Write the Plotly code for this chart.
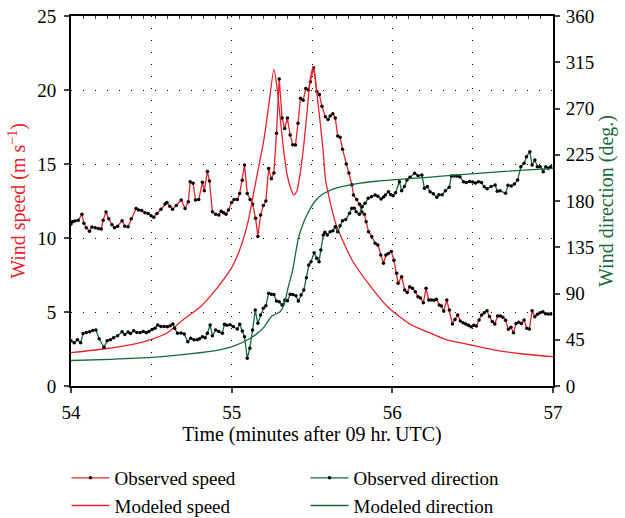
import plotly.graph_objects as go

# ---------------- data ----------------
obs_speed_t = [54.000, 54.010, 54.025, 54.045, 54.068, 54.080, 54.095, 54.115, 54.130, 54.150,
               54.170, 54.188, 54.200, 54.218, 54.235, 54.255, 54.271, 54.290, 54.318, 54.335,
               54.355, 54.375, 54.405, 54.420, 54.440, 54.460, 54.480, 54.498, 54.515, 54.535,
               54.560, 54.585, 54.597, 54.615, 54.632, 54.655, 54.686, 54.710, 54.730, 54.742,
               54.760, 54.775, 54.795, 54.818, 54.830, 54.849, 54.862, 54.880, 54.900, 54.920,
               54.935, 54.950, 54.965, 54.980, 55.000, 55.015, 55.035, 55.050, 55.066, 55.080,
               55.097, 55.115, 55.130, 55.149, 55.163, 55.180, 55.197, 55.213, 55.230, 55.247,
               55.263, 55.279, 55.296, 55.314, 55.330, 55.347, 55.364, 55.380, 55.397, 55.413,
               55.428, 55.445, 55.461, 55.477, 55.490, 55.510, 55.530, 55.546, 55.562, 55.583,
               55.600, 55.613, 55.630, 55.645, 55.660, 55.675, 55.690, 55.713, 55.730, 55.748,
               55.758, 55.778, 55.796, 55.810, 55.826, 55.837, 55.852, 55.872, 55.893, 55.910,
               55.928, 55.945, 55.960, 55.975, 55.994, 56.010, 56.027, 56.036, 56.058, 56.077,
               56.093, 56.108, 56.125, 56.143, 56.160, 56.175, 56.193, 56.210, 56.227, 56.243,
               56.260, 56.275, 56.292, 56.305, 56.320, 56.339, 56.355, 56.374, 56.390, 56.407,
               56.423, 56.440, 56.457, 56.474, 56.490, 56.507, 56.523, 56.540, 56.556, 56.572,
               56.589, 56.605, 56.622, 56.638, 56.655, 56.672, 56.688, 56.705, 56.722, 56.738,
               56.754, 56.770, 56.787, 56.803, 56.820, 56.837, 56.853, 56.870, 56.887, 56.903,
               56.920, 56.937, 56.953, 56.970, 56.986]
obs_speed = [10.95, 11.10, 11.15, 11.20, 11.60, 11.00, 10.70, 10.45, 10.75, 10.70,
             10.65, 10.60, 11.20, 11.75, 11.30, 10.90, 10.70, 10.80, 11.17, 10.80,
             10.76, 11.30, 12.00, 11.90, 11.85, 11.70, 11.65, 11.50, 11.40, 11.65,
             11.95, 12.30, 12.40, 12.15, 11.95, 12.20, 12.57, 12.00, 12.45, 13.80,
             13.70, 12.57, 12.60, 13.76, 13.20, 14.50, 13.85, 11.78, 11.60, 11.55,
             11.80, 11.70, 11.60, 11.90, 12.40, 12.60, 12.60, 13.00, 13.90, 14.93,
             13.00, 12.60, 12.30, 11.33, 10.10, 11.55, 12.20, 12.50, 14.70, 14.00,
             14.40, 17.07, 20.74, 18.10, 17.40, 18.10, 16.96, 16.30, 16.28, 17.75,
             19.44, 19.30, 20.10, 20.00, 20.56, 21.50, 19.90, 19.70, 18.90, 18.20,
             18.00, 18.25, 18.40, 18.10, 16.90, 16.80, 16.00, 15.00, 14.40, 13.60,
             12.90, 12.60, 12.28, 11.78, 11.60, 11.10, 10.43, 10.10, 9.64, 9.53,
             8.85, 8.29, 8.85, 8.95, 9.08, 8.50, 7.61, 6.94, 7.39, 6.49,
             6.31, 6.71, 6.60, 6.37, 6.03, 5.95, 5.63, 6.60, 5.81, 5.81,
             5.80, 5.86, 5.47, 5.40, 5.07, 5.81, 5.14, 4.19, 4.50, 4.80,
             4.40, 4.28, 4.19, 4.10, 4.00, 4.10, 4.05, 4.46, 4.80, 4.95,
             5.09, 4.70, 4.35, 4.19, 4.73, 4.73, 4.64, 4.45, 3.83, 3.97,
             3.60, 4.23, 4.30, 4.23, 4.46, 3.90, 3.85, 5.09, 4.68, 4.85,
             4.95, 5.02, 4.88, 4.86, 4.86]

mod_speed_t = [54.00, 54.20, 54.40, 54.50, 54.60, 54.70, 54.80, 54.90, 55.00, 55.05,
               55.10, 55.15, 55.20, 55.23, 55.263, 55.283, 55.304, 55.325, 55.345, 55.366,
               55.387, 55.407, 55.428, 55.449, 55.469, 55.490, 55.510, 55.531, 55.550, 55.570,
               55.585, 55.647, 55.750, 55.850, 55.980, 56.120, 56.230, 56.330, 56.490, 56.640,
               56.800, 57.000]
mod_speed = [2.25, 2.50, 2.85, 3.15, 3.60, 4.50, 5.30, 6.50, 8.00, 9.20,
             11.00, 13.80, 16.60, 18.90, 21.40, 20.10, 17.90, 15.80, 14.30, 13.40,
             12.90, 13.20, 14.50, 16.30, 18.50, 20.80, 21.60, 19.70, 17.90, 15.80,
             13.90, 11.00, 8.50, 6.94, 5.25, 4.12, 3.60, 3.15, 2.77, 2.43,
             2.18, 1.98]

obs_dir_t = [54.000, 54.020, 54.040, 54.060, 54.075, 54.095, 54.116, 54.135, 54.155, 54.175,
             54.205, 54.225, 54.245, 54.265, 54.290, 54.318, 54.335, 54.355, 54.370, 54.390,
             54.410, 54.430, 54.450, 54.469, 54.485, 54.505, 54.523, 54.540, 54.560, 54.580,
             54.600, 54.617, 54.634, 54.645, 54.663, 54.685, 54.705, 54.727, 54.745, 54.765,
             54.785, 54.800, 54.818, 54.835, 54.849, 54.866, 54.880, 54.900, 54.920, 54.942,
             54.955, 54.970, 54.990, 55.010, 55.035, 55.050, 55.066, 55.080, 55.097, 55.113,
             55.130, 55.147, 55.163, 55.180, 55.197, 55.213, 55.230, 55.247, 55.263, 55.279,
             55.296, 55.314, 55.331, 55.347, 55.364, 55.380, 55.400, 55.415, 55.432, 55.449,
             55.465, 55.480, 55.494, 55.513, 55.530, 55.544, 55.555, 55.570, 55.580, 55.595,
             55.613, 55.630, 55.645, 55.660, 55.675, 55.690, 55.710, 55.734, 55.748, 55.763,
             55.775, 55.795, 55.812, 55.830, 55.850, 55.870, 55.893, 55.910, 55.930, 55.945,
             55.957, 55.976, 55.990, 56.005, 56.020, 56.044, 56.058, 56.075, 56.091, 56.110,
             56.139, 56.160, 56.184, 56.200, 56.218, 56.235, 56.255, 56.277, 56.290, 56.310,
             56.330, 56.354, 56.368, 56.385, 56.400, 56.420, 56.443, 56.460, 56.480, 56.500,
             56.518, 56.536, 56.555, 56.572, 56.590, 56.615, 56.640, 56.653, 56.670, 56.705,
             56.720, 56.740, 56.760, 56.780, 56.800, 56.820, 56.835, 56.856, 56.870, 56.887,
             56.903, 56.920, 56.939, 56.955, 56.970, 56.986]
obs_dir = [44.0, 42.0, 45.0, 42.0, 51.0, 52.0, 52.8, 54.0, 54.5, 46.0,
           37.6, 44.1, 45.0, 47.0, 49.0, 52.8, 50.0, 52.5, 51.0, 53.8,
           52.0, 52.0, 53.0, 51.9, 53.0, 55.0, 56.1, 59.3, 58.0, 58.0,
           57.7, 58.5, 60.3, 56.1, 51.3, 51.5, 50.6, 43.1, 46.4, 45.0,
           45.0, 46.0, 48.0, 47.0, 51.3, 59.3, 48.9, 54.5, 53.0, 51.3,
           60.0, 59.0, 59.5, 58.0, 55.5, 60.0, 53.5, 48.0, 27.0, 36.7,
           54.5, 73.9, 61.0, 69.1, 75.6, 78.1, 90.2, 89.2, 89.0, 82.7,
           82.0, 78.8, 83.7, 83.0, 89.2, 89.0, 87.9, 82.7, 88.5, 93.4,
           105.4, 117.7, 120.9, 129.7, 124.2, 121.0, 132.3, 147.0, 149.5, 147.0,
           150.1, 151.0, 155.0, 150.1, 156.0, 160.8, 162.0, 168.0, 172.9, 172.9,
           169.6, 167.0, 174.5, 177.8, 182.6, 184.2, 185.8, 184.5, 182.0, 184.0,
           185.8, 189.0, 186.0, 185.2, 188.0, 198.8, 190.0, 194.0, 200.4, 203.0,
           206.9, 204.5, 205.3, 192.3, 194.0, 189.0, 187.0, 183.6, 186.0, 186.0,
           190.0, 193.3, 204.3, 204.3, 204.3, 203.5, 198.8, 198.0, 199.0, 198.5,
           197.5, 198.8, 198.0, 193.9, 192.0, 194.0, 195.6, 189.5, 190.0, 187.5,
           195.3, 194.5, 196.5, 200.4, 213.4, 216.7, 223.1, 228.0, 215.0, 219.9,
           213.4, 213.4, 208.5, 213.4, 211.8, 213.4]

mod_dir_t = [54.00, 54.25, 54.50, 54.75, 54.90, 55.00, 55.10, 55.15, 55.20, 55.25,
             55.30, 55.327, 55.35, 55.38, 55.415, 55.45, 55.48, 55.52, 55.56, 55.60,
             55.65, 55.70, 55.80, 55.90, 56.00, 56.20, 56.45, 56.70, 57.00]
mod_dir = [24.8, 26.0, 27.8, 31.5, 34.5, 38.0, 45.0, 50.0, 57.0, 68.0,
           72.0, 79.0, 95.0, 113.0, 143.7, 160.0, 170.0, 180.0, 186.0, 189.5,
           192.5, 194.5, 197.3, 199.2, 200.6, 202.8, 206.0, 208.8, 211.8]

x_ticks = [54, 55, 56, 57]
speed_ticks = [0, 5, 10, 15, 20, 25]
dir_ticks = [0, 45, 90, 135, 180, 225, 270, 315, 360]

# ---------------- style ----------------
RED = "#e6232b"
GREEN = "#17683a"
FONT = "Liberation Serif"
DOTS = "1.2px,10.8px"

fig = go.Figure()

fig.add_trace(go.Scatter(x=obs_speed_t, y=obs_speed, mode="lines+markers", name="Observed speed",
                         line=dict(color=RED, width=1.3),
                         marker=dict(color="black", size=3.5, symbol="circle"),
                         legendrank=1))
fig.add_trace(go.Scatter(x=obs_dir_t, y=obs_dir, mode="lines+markers", name="Observed direction",
                         line=dict(color=GREEN, width=1.3),
                         marker=dict(color="black", size=3.5, symbol="circle"),
                         yaxis="y2", legendrank=2))
fig.add_trace(go.Scatter(x=mod_speed_t, y=mod_speed, mode="lines", name="Modeled speed",
                         line=dict(color=RED, width=1.3, shape="spline", smoothing=0.6),
                         legendrank=3))
fig.add_trace(go.Scatter(x=mod_dir_t, y=mod_dir, mode="lines", name="Modeled direction",
                         line=dict(color=GREEN, width=1.3, shape="spline", smoothing=0.6),
                         yaxis="y2", legendrank=4))
# invisible trace to show the top tick axis
fig.add_trace(go.Scatter(x=[54, 57], y=[None, None], xaxis="x2", showlegend=False, hoverinfo="skip"))

fig.update_layout(
    width=625, height=518,
    margin=dict(l=71, r=72, t=16, b=132),
    paper_bgcolor="white", plot_bgcolor="white",
    font=dict(family=FONT, size=19, color="black"),
    showlegend=True,
    legend=dict(orientation="h", xref="container", yref="container",
                x=0.1064, xanchor="left", y=0.114, yanchor="top",
                entrywidth=186, entrywidthmode="pixels", itemwidth=38,
                font=dict(family=FONT, size=19), tracegroupgap=0,
                bgcolor="rgba(0,0,0,0)"),
    xaxis=dict(range=[54, 57], tickmode="array", tickvals=x_ticks,
               ticks="outside", ticklen=5, tickwidth=1.5, ticklabelstandoff=3,
               showline=True, linecolor="black", linewidth=2, automargin=False,
               title=dict(text="Time (minutes after 09 hr.\u2009UTC)", font=dict(size=20), standoff=4),
               zeroline=False,
               showgrid=True, gridcolor="black", gridwidth=1.2, griddash=DOTS,
               minor=dict(dtick=0.5, tick0=54, ticks="", showgrid=True, gridcolor="black",
                          gridwidth=1.2, griddash=DOTS)),
    xaxis2=dict(range=[54, 57], overlaying="x", side="top", showline=True, linecolor="black",
                linewidth=2, ticks="inside", ticklen=3, tickwidth=1, tick0=54, dtick=0.075,
                showticklabels=False, showgrid=False, zeroline=False, automargin=False),
    yaxis=dict(range=[0, 25], tickvals=speed_ticks, ticks="outside", ticklen=5, tickwidth=1.5,
               ticklabelstandoff=4,
               showline=True, linecolor="black", linewidth=2, automargin=False,
               title=dict(text="Wind speed (m s<sup>\u22121</sup>)", font=dict(color=RED, size=20), standoff=6),
               zeroline=False,
               showgrid=True, gridcolor="black", gridwidth=1.2, griddash=DOTS),
    yaxis2=dict(range=[0, 360], tickvals=dir_ticks, overlaying="y", side="right",
                ticks="outside", ticklen=5, tickwidth=1.5, ticklabelstandoff=2,
                showline=True, linecolor="black",
                linewidth=2, showgrid=False, zeroline=False, automargin=False,
                title=dict(text="Wind direction (deg.)", font=dict(color=GREEN, size=20), standoff=6)),
)

fig.write_html("out.html", config={"displayModeBar": False},
               post_script="document.body.style.margin='0px';")
